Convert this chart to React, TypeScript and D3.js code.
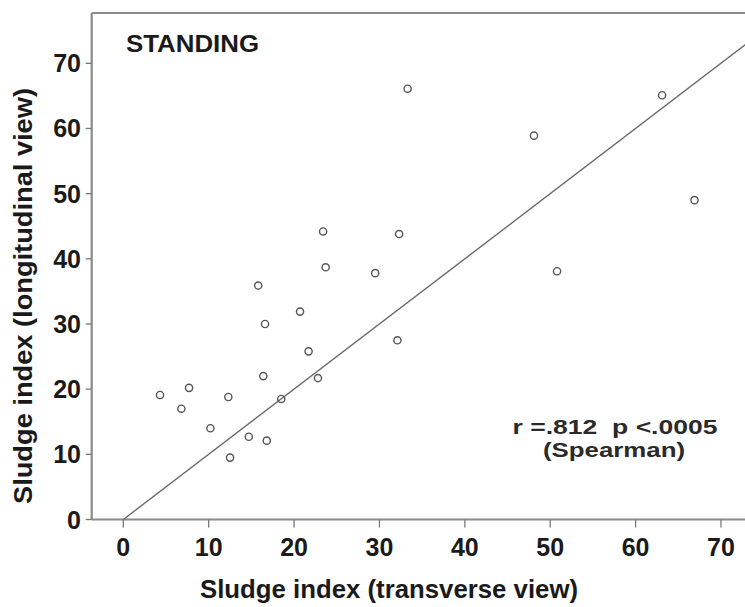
import React from "react";
import * as d3 from "d3";

const transverse = [4.3, 6.8, 7.7, 10.2, 12.3, 12.5, 14.7, 15.8, 16.4, 16.6, 16.8, 18.5, 20.7, 21.7, 22.8, 23.4, 23.7, 29.5, 32.3, 32.1, 33.3, 48.1, 50.8, 63.1, 66.9];
const longitudinal = [19.1, 17.0, 20.2, 14.0, 18.8, 9.5, 12.7, 35.9, 22.0, 30.0, 12.1, 18.5, 31.9, 25.8, 21.7, 44.2, 38.7, 37.8, 43.8, 27.5, 66.1, 58.9, 38.1, 65.1, 49.0];
const xTicks = [0, 10, 20, 30, 40, 50, 60, 70];
const yTicks = [0, 10, 20, 30, 40, 50, 60, 70];
const identityLine = [0, 80];

const W = 745;
const H = 607;

export default function App() {
  const x = d3.scaleLinear().domain([0, 70]).range([123.3, 721]);
  const y = d3.scaleLinear().domain([0, 70]).range([519.5, 63.3]);
  const left = x(-3.7);
  const top = 13;
  const bottom = y(0);
  const right = W + 5;
  const line = d3
    .line<number>()
    .x((d) => x(d))
    .y((d) => y(d));
  const font = "'Liberation Sans', Arial, sans-serif";
  const textColor = "#1a1a1a";
  return (
    <svg
      width={W}
      height={H}
      viewBox={`0 0 ${W} ${H}`}
      style={{ position: "absolute", left: 0, top: 0, background: "#fff" }}
      fontFamily={font}
    >
      <defs>
        <clipPath id="plotClip">
          <rect x={left} y={top} width={right - left} height={bottom - top} />
        </clipPath>
      </defs>
      <rect x={0} y={0} width={W} height={H} fill="#fff" />
      {/* frame */}
      <line x1={left} x2={right} y1={top} y2={top} stroke="#8a8a8a" strokeWidth={2} />
      <line x1={left} x2={left} y1={top} y2={bottom} stroke="#8a8a8a" strokeWidth={2.2} />
      <line x1={left} x2={right} y1={bottom} y2={bottom} stroke="#8a8a8a" strokeWidth={1.8} />
      {/* y ticks */}
      {yTicks.map((t) => (
        <g key={"y" + t}>
          <line x1={left - 6} x2={left} y1={y(t)} y2={y(t)} stroke="#777" strokeWidth={1.3} />
          <text
            x={81}
            y={y(t)}
            dy="0.36em"
            textAnchor="end"
            fontSize={25}
            fontWeight="bold"
            fill={textColor}
          >
            {t}
          </text>
        </g>
      ))}
      {/* x ticks */}
      {xTicks.map((t) => (
        <g key={"x" + t}>
          <line x1={x(t)} x2={x(t)} y1={bottom} y2={bottom + 8} stroke="#777" strokeWidth={1.3} />
          <text
            x={x(t)}
            y={556}
            textAnchor="middle"
            fontSize={25}
            fontWeight="bold"
            fill={textColor}
          >
            {t}
          </text>
        </g>
      ))}
      {/* identity line */}
      <g clipPath="url(#plotClip)">
        <path d={line(identityLine) || ""} fill="none" stroke="#6a6a6a" strokeWidth={1.4} />
      </g>
      {/* points */}
      {transverse.map((tv, i) => (
        <circle
          key={"p" + i}
          cx={x(tv)}
          cy={y(longitudinal[i])}
          r={3.6}
          fill="none"
          stroke="#555"
          strokeWidth={1.4}
        />
      ))}
      {/* labels */}
      <text x={126} y={52} fontSize={24} fontWeight="bold" fill={textColor} textLength={133} lengthAdjust="spacingAndGlyphs">
        STANDING
      </text>
      <text x={615} y={434} textAnchor="middle" fontSize={20} fontWeight="bold" fill="#2a2a2a" textLength={205} lengthAdjust="spacingAndGlyphs">
        {"r =.812\u00a0\u00a0p <.0005"}
      </text>
      <text x={614} y={457} textAnchor="middle" fontSize={20} fontWeight="bold" fill="#2a2a2a" textLength={142} lengthAdjust="spacingAndGlyphs">
        (Spearman)
      </text>
      <text x={389} y={598} textAnchor="middle" fontSize={25} fontWeight="bold" fill={textColor} textLength={378} lengthAdjust="spacingAndGlyphs">
        Sludge index (transverse view)
      </text>
      <text
        transform={`translate(32, 296) rotate(-90)`}
        textAnchor="middle"
        fontSize={25}
        fontWeight="bold"
        fill={textColor}
        textLength={416}
        lengthAdjust="spacingAndGlyphs"
      >
        Sludge index (longitudinal view)
      </text>
    </svg>
  );
}
